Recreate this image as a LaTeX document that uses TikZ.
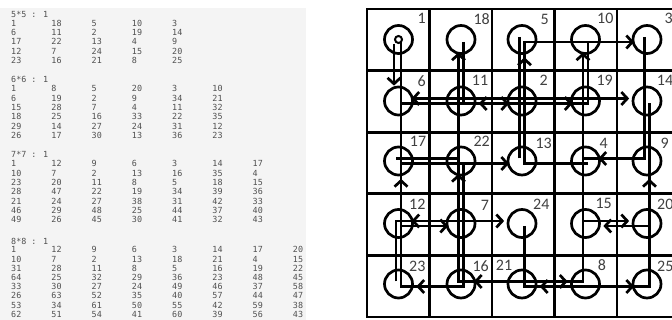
\documentclass[tikz,border=0pt]{standalone}
\usepackage{fontspec}
\newfontfamily\lblfont{Carlito}
\newfontfamily\monofont{DejaVu Sans Mono}
\usetikzlibrary{arrows.meta}
\definecolor{panelbg}{HTML}{F4F4F4}
\definecolor{txtgray}{HTML}{505050}
\definecolor{lblgray}{HTML}{404040}
\newlength\colw \setlength\colw{40.25pt}
\newcommand\C[1]{\makebox[\colw][l]{#1}}
\begin{document}
\begin{tikzpicture}[x=1pt,y=-1pt,
  txt/.style={anchor=base west, inner sep=0pt, font=\monofont\fontsize{8.4}{9}\selectfont, text=txtgray},
  lbl/.style={inner sep=0pt, font=\lblfont\fontsize{16}{16}\selectfont, text=lblgray},
  circ/.style={circle, draw, line width=2.7pt, minimum size=28pt, inner sep=0pt},
  gridline/.style={line width=2.9pt},
  mv/.style={line width=2.7pt, -{Straight Barb[length=6pt,width=13pt]}},
  pa/.style={transform canvas={shift={(-2.5,-2.5)}}},
  pb/.style={transform canvas={shift={(2.5,2.5)}}},
]
\useasboundingbox (0,0) rectangle (672,320);
\fill[panelbg] (0,8) rectangle (306,320);
% 5x5
\node[txt] (h5) at (11,17.3) {5*5 : 1};
\node[txt] (a1) at (11,26.3) {\C{1}\C{18}\C{5}\C{10}\C{3}};
\node[txt] (a2) at (11,35.6) {\C{6}\C{11}\C{2}\C{19}\C{14}};
\node[txt] (a3) at (11,45) {\C{17}\C{22}\C{13}\C{4}\C{9}};
\node[txt] (a4) at (11,54.3) {\C{12}\C{7}\C{24}\C{15}\C{20}};
\node[txt] (a5) at (11,63.6) {\C{23}\C{16}\C{21}\C{8}\C{25}};
% 6x6
\node[txt] (h6) at (11,82.7) {6*6 : 1};
\node[txt] (b1) at (11,92) {\C{1}\C{8}\C{5}\C{20}\C{3}\C{10}};
\node[txt] (b2) at (11,101.3) {\C{6}\C{19}\C{2}\C{9}\C{34}\C{21}};
\node[txt] (b3) at (11,110.7) {\C{15}\C{28}\C{7}\C{4}\C{11}\C{32}};
\node[txt] (b4) at (11,120) {\C{18}\C{25}\C{16}\C{33}\C{22}\C{35}};
\node[txt] (b5) at (11,129.3) {\C{29}\C{14}\C{27}\C{24}\C{31}\C{12}};
\node[txt] (b6) at (11,138.7) {\C{26}\C{17}\C{30}\C{13}\C{36}\C{23}};
% 7x7
\node[txt] (h7) at (11,157.7) {7*7 : 1};
\node[txt] (d1) at (11,167) {\C{1}\C{12}\C{9}\C{6}\C{3}\C{14}\C{17}};
\node[txt] (d2) at (11,176.3) {\C{10}\C{7}\C{2}\C{13}\C{16}\C{35}\C{4}};
\node[txt] (d3) at (11,185.7) {\C{23}\C{20}\C{11}\C{8}\C{5}\C{18}\C{15}};
\node[txt] (d4) at (11,195) {\C{28}\C{47}\C{22}\C{19}\C{34}\C{39}\C{36}};
\node[txt] (d5) at (11,204.3) {\C{21}\C{24}\C{27}\C{38}\C{31}\C{42}\C{33}};
\node[txt] (d6) at (11,213.7) {\C{46}\C{29}\C{48}\C{25}\C{44}\C{37}\C{40}};
\node[txt] (d7) at (11,223) {\C{49}\C{26}\C{45}\C{30}\C{41}\C{32}\C{43}};
% 8x8
\node[txt] (h8) at (11,244.7) {8*8 : 1};
\node[txt] (e1) at (11,253) {\C{1}\C{12}\C{9}\C{6}\C{3}\C{14}\C{17}\C{20}};
\node[txt] (e2) at (11,262.2) {\C{10}\C{7}\C{2}\C{13}\C{18}\C{21}\C{4}\C{15}};
\node[txt] (e3) at (11,271.4) {\C{31}\C{28}\C{11}\C{8}\C{5}\C{16}\C{19}\C{22}};
\node[txt] (e4) at (11,280.6) {\C{64}\C{25}\C{32}\C{29}\C{36}\C{23}\C{48}\C{45}};
\node[txt] (e5) at (11,289.8) {\C{33}\C{30}\C{27}\C{24}\C{49}\C{46}\C{37}\C{58}};
\node[txt] (e6) at (11,299) {\C{26}\C{63}\C{52}\C{35}\C{40}\C{57}\C{44}\C{47}};
\node[txt] (e7) at (11,308.2) {\C{53}\C{34}\C{61}\C{50}\C{55}\C{42}\C{59}\C{38}};
\node[txt] (e8) at (11,317.4) {\C{62}\C{51}\C{54}\C{41}\C{60}\C{39}\C{56}\C{43}};
% grid
\draw[gridline] (367,9) rectangle (679.5,317);
\foreach \gx in {429.5,492,554.5,617} \draw[gridline] (\gx,9) -- (\gx,317);
\foreach \gy in {70.6,132.2,193.8,255.4} \draw[gridline] (367,\gy) -- (679.5,\gy);
% circles
\node[circ] (c1) at (398.5,39.5) {};
\node[circ] (c18) at (461,39.5) {};
\node[circ] (c5) at (522,39.5) {};
\node[circ] (c10) at (585.5,39.5) {};
\node[circ] (c3) at (647,39.5) {};
\node[circ] (c6) at (398.5,101) {};
\node[circ] (c11) at (461,101) {};
\node[circ] (c2) at (522,101) {};
\node[circ] (c19) at (585.5,101) {};
\node[circ] (c14) at (647,101) {};
\node[circ] (c17) at (398.5,161) {};
\node[circ] (c22) at (461,161) {};
\node[circ] (c13) at (522,161) {};
\node[circ] (c4) at (585.5,161) {};
\node[circ] (c9) at (647,161) {};
\node[circ] (c12) at (398.5,223.5) {};
\node[circ] (c7) at (461,223.5) {};
\node[circ] (c24) at (522,223.5) {};
\node[circ] (c15) at (585.5,223.5) {};
\node[circ] (c20) at (647,223.5) {};
\node[circ] (c23) at (398.5,284) {};
\node[circ] (c16) at (461,284) {};
\node[circ] (c21) at (522,284) {};
\node[circ] (c8) at (585.5,284) {};
\node[circ] (c25) at (647,284) {};
\node[circle, draw, line width=2pt, minimum size=7pt, inner sep=0pt] (s1) at (398.5,39.5) {};
% labels
\node[lbl] (l1) at (421.7,18.3) {1};
\node[lbl] (l18) at (481.7,19.3) {18};
\node[lbl] (l5) at (544.7,19.3) {5};
\node[lbl] (l10) at (605.3,18.3) {10};
\node[lbl] (l3) at (668.7,18.3) {3};
\node[lbl] (l6) at (421.7,80.7) {6};
\node[lbl] (l11) at (480,80) {11};
\node[lbl] (l2) at (543.7,80.7) {2};
\node[lbl] (l19) at (604.7,80.7) {19};
\node[lbl] (l14) at (665,80.7) {14};
\node[lbl] (l17) at (418,141.7) {17};
\node[lbl] (l22) at (481.7,141.7) {22};
\node[lbl] (l13) at (543.7,143.3) {13};
\node[lbl] (l4) at (603.7,143.3) {4};
\node[lbl] (l9) at (664.7,143.3) {9};
\node[lbl] (l12) at (417.3,204.3) {12};
\node[lbl] (l7) at (485,205) {7};
\node[lbl] (l24) at (541.3,204.3) {24};
\node[lbl] (l15) at (603.7,203.3) {15};
\node[lbl] (l20) at (665.3,204.3) {20};
\node[lbl] (l23) at (417.3,266) {23};
\node[lbl] (l16) at (480.7,266) {16};
\node[lbl] (l21) at (504,265) {21};
\node[lbl] (l8) at (602,265) {8};
\node[lbl] (l25) at (665.3,266.7) {25};
% moves
\draw[mv,transform canvas={shift={(-4.5,0)}}] (s1) -- (c6);
\draw[mv,pb] (c1.center) -- (c1.center |- c2.center) -- (c2);
\draw[mv,pb] (c2.center) -- (c2.center |- c3.center) -- (c3);
\draw[mv,pa] (c3.center) -- (c3.center |- c4.center) -- (c4);
\draw[mv,pb] (c4.center) -- (c4.center -| c5.center) -- (c5);
\draw[mv,pa] (c5.center) -- (c5.center |- c6.center) -- (c6);
\draw[mv,pb] (c6.center) -- (c6.center |- c7.center) -- (c7);
\draw[mv,pa] (c7.center) -- (c7.center |- c8.center) -- (c8);
\draw[mv,pb] (c8.center) -- (c8.center -| c9.center) -- (c9);
\draw[mv,pa] (c9.center) -- (c9.center -| c10.center) -- (c10);
\draw[mv,pb] (c10.center) -- (c10.center |- c11.center) -- (c11);
\draw[mv,pa] (c11.center) -- (c11.center |- c12.center) -- (c12);
\draw[mv,pb] (c12.center) -- (c12.center |- c13.center) -- (c13);
\draw[mv,pa] (c13.center) -- (c13.center |- c14.center) -- (c14);
\draw[mv,pb] (c14.center) -- (c14.center |- c15.center) -- (c15);
\draw[mv,pa] (c15.center) -- (c15.center |- c16.center) -- (c16);
\draw[mv,pb] (c16.center) -- (c16.center -| c17.center) -- (c17);
\draw[mv,pa] (c17.center) -- (c17.center -| c18.center) -- (c18);
\draw[mv,pb] (c18.center) -- (c18.center |- c19.center) -- (c19);
\draw[mv,pa] (c19.center) -- (c19.center |- c20.center) -- (c20);
\draw[mv,pb] (c20.center) -- (c20.center |- c21.center) -- (c21);
\draw[mv,pa] (c21.center) -- (c21.center -| c22.center) -- (c22);
\draw[mv,pb] (c22.center) -- (c22.center |- c23.center) -- (c23);
\draw[mv,pa] (c23.center) -- (c23.center |- c24.center) -- (c24);
\draw[mv,pb] (c24.center) -- (c24.center |- c25.center) -- (c25);
\end{tikzpicture}
\end{document}
